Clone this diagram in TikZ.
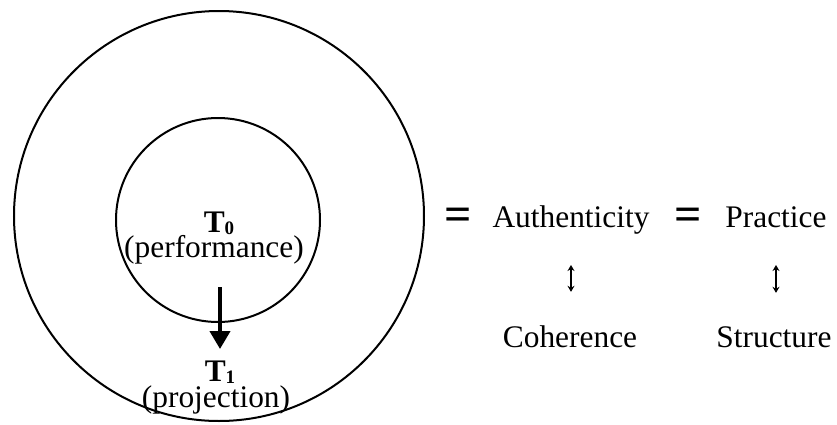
\documentclass[tikz,border=0pt]{standalone}
\usepackage{fontspec}
\setmainfont{Liberation Serif}
\usetikzlibrary{arrows.meta}
\newcommand{\subidx}[1]{\raisebox{-1pt}{\fontsize{9.5}{10}\selectfont\bfseries #1}}
\begin{document}
\begin{tikzpicture}[x=0.5pt, y=-0.5pt,
    txt/.style={inner sep=0pt, anchor=base, font=\fontsize{15.7}{19}\selectfont},
    eqsign/.style={inner sep=0pt, font=\fontsize{24}{28}\selectfont\bfseries},
    updown/.style={{Stealth[length=3pt,width=3.5pt]}-{Stealth[length=3pt,width=3.5pt]}, line width=0.6pt}]
    \useasboundingbox (0,0) rectangle (837,424);
    \draw [line width=1pt] (219,216) circle [radius=102.5pt];
    \draw [line width=1pt] (218,220) circle [radius=51pt];
    \node [txt] (T0) at (219,232) {\textbf{T}\subidx{0}};
    \node [txt] (perf) at (214,257) {(performance)};
    \node [txt] (T1) at (220,381) {\textbf{T}\subidx{1}};
    \node [txt] (proj) at (216,407) {(projection)};
    \draw [-{Triangle[width=10pt,length=9pt]}, line width=2pt,
        shorten <=11.5pt, shorten >=5.5pt] (perf.south -| T1.north) -- (T1.north);
    \node [eqsign] (eqA) at (458,219) {=};
    \node [txt] (auth) at (571,227) {Authenticity};
    \node [eqsign] (eqB) at (688,219) {=};
    \node [txt] (prac) at (776,227) {Practice};
    \node [txt] (coh) at (570,347) {Coherence};
    \node [txt] (struc) at (774,347) {Structure};
    \draw [updown, shorten <=19pt, shorten >=16.5pt] (auth.base) -- (auth.base |- coh.north);
    \draw [updown, shorten <=19pt, shorten >=16.5pt] (prac.base) -- (prac.base |- struc.north);
\end{tikzpicture}
\end{document}
